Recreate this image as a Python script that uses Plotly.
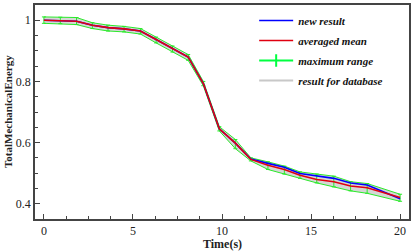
import plotly.graph_objects as go

time_s = [0, 0.92, 1.83, 2.72, 3.6, 4.5, 5.42, 6.3, 7.22, 8.1, 8.95, 9.85,
          10.75, 11.62, 12.58, 13.5, 14.38, 15.32, 16.28, 17.22, 18.15, 20]
averaged_mean = [1.0, 0.999, 0.997, 0.984, 0.976, 0.972, 0.965, 0.937, 0.907, 0.880, 0.793, 0.645,
                 0.598, 0.545, 0.526, 0.512, 0.493, 0.479, 0.472, 0.458, 0.452, 0.420]
new_result = [1.0, 0.999, 0.997, 0.984, 0.976, 0.972, 0.965, 0.937, 0.907, 0.880, 0.793, 0.645,
              0.598, 0.546, 0.532, 0.519, 0.499, 0.490, 0.483, 0.468, 0.461, 0.416]
range_upper = [1.011, 1.010, 1.009, 0.992, 0.984, 0.980, 0.973, 0.945, 0.916, 0.888, 0.800, 0.652,
               0.610, 0.550, 0.537, 0.523, 0.504, 0.497, 0.490, 0.472, 0.466, 0.431]
range_lower = [0.990, 0.989, 0.986, 0.973, 0.965, 0.962, 0.955, 0.926, 0.896, 0.869, 0.786, 0.638,
               0.580, 0.540, 0.512, 0.497, 0.483, 0.468, 0.455, 0.442, 0.434, 0.408]

GREEN = "#2bea2b"
FONT = "Times New Roman, Liberation Serif, serif"

fig = go.Figure()

# database results envelope (gray)
fig.add_trace(go.Scatter(x=time_s, y=range_upper, mode="lines", line=dict(width=0),
                         showlegend=False, hoverinfo="skip"))
fig.add_trace(go.Scatter(x=time_s, y=range_lower, mode="lines", line=dict(width=0),
                         fill="tonexty", fillcolor="#d6d6d6", showlegend=False, hoverinfo="skip"))

# maximum range bounds
fig.add_trace(go.Scatter(x=time_s, y=range_upper, mode="lines", line=dict(color=GREEN, width=1),
                         showlegend=False))
fig.add_trace(go.Scatter(x=time_s, y=range_lower, mode="lines", line=dict(color=GREEN, width=1),
                         showlegend=False))
# vertical range bars
fig.add_trace(go.Scatter(
    x=time_s, y=averaged_mean, mode="markers", marker=dict(size=0.1, color=GREEN, opacity=0),
    error_y=dict(type="data", symmetric=False,
                 array=[u - m for u, m in zip(range_upper, averaged_mean)],
                 arrayminus=[m - l for l, m in zip(range_lower, averaged_mean)],
                 color=GREEN, thickness=1, width=2),
    showlegend=False))

fig.add_trace(go.Scatter(x=time_s, y=new_result, mode="lines", name="new result",
                         legendgroup="a", line=dict(color="#0000ff", width=1.6)))
fig.add_trace(go.Scatter(x=time_s, y=averaged_mean, mode="lines", name="averaged mean",
                         legendgroup="b", line=dict(color="#e00010", width=1.6)))
# legend entries
fig.add_trace(go.Scatter(x=[None], y=[None], mode="lines+markers", name="maximum range",
                         legendgroup="c", line=dict(color="#00ff40", width=2),
                         marker=dict(symbol="line-ns-open", size=9,
                                     line=dict(color="#00ff40", width=2))))
fig.add_trace(go.Scatter(x=[None], y=[None], mode="lines", name="result for database",
                         legendgroup="d", line=dict(color="#c8c8c8", width=2)))

axis_common = dict(showgrid=False, zeroline=False, showline=True, mirror=True,
                   linecolor="#444444", linewidth=1.5, ticks="inside", ticklen=5,
                   tickcolor="#444444", tickwidth=1, automargin=False,
                   tickfont=dict(family=FONT, size=12, color="#222222"))

fig.update_xaxes(range=[-0.5, 20.5], dtick=5, tick0=0,
                 minor=dict(ticks="inside", ticklen=3, dtick=1.25, tick0=0, tickcolor="#444444"),
                 **axis_common)
fig.update_yaxes(range=[0.35, 1.05], dtick=0.2, tick0=0,
                 minor=dict(ticks="inside", ticklen=3, dtick=0.05, tick0=0, tickcolor="#444444"),
                 **axis_common)

fig.add_annotation(text="<b>Time(s)</b>", xref="paper", yref="paper", x=0.5, y=0,
                   yshift=-25, xanchor="center", yanchor="middle", showarrow=False,
                   font=dict(family=FONT, size=12, color="#222222"))
fig.add_annotation(text="<b>TotalMechanicalEnergy</b>", xref="paper", yref="paper", x=0, y=0.5,
                   xshift=-27, xanchor="center", yanchor="middle", textangle=-90, showarrow=False,
                   font=dict(family=FONT, size=11, color="#222222"))

fig.update_layout(
    width=415, height=251,
    margin=dict(l=35, r=6, t=5, b=32),
    paper_bgcolor="white", plot_bgcolor="white",
    showlegend=True,
    legend=dict(x=0.586, y=0.995, xanchor="left", yanchor="top", bgcolor="rgba(0,0,0,0)",
                itemwidth=34, tracegroupgap=1, traceorder="grouped",
                font=dict(family=FONT, size=11, color="#111111")),
)
for tr in fig.data:
    if tr.showlegend is not False and tr.name:
        tr.name = "<b><i>" + tr.name + "</i></b>"

fig.write_html("out.html", config={"displayModeBar": False},
               post_script="document.body.style.margin='0';")
